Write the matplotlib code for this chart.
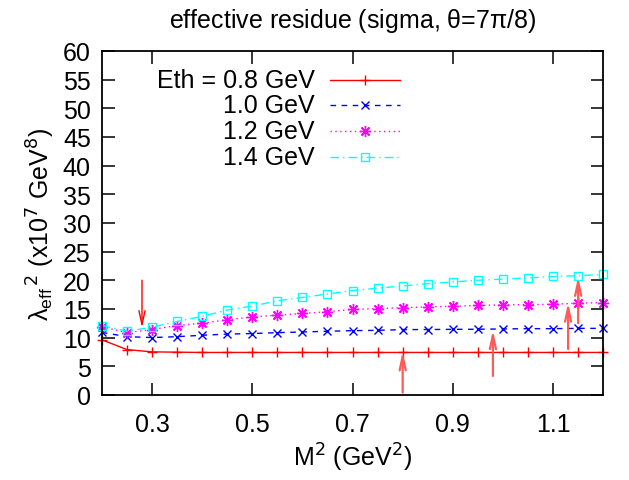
import numpy as np
import matplotlib.pyplot as plt

plt.rcParams['font.family'] = ['Liberation Sans', 'DejaVu Sans']

# M^2 grid (GeV^2)
m2 = [0.20, 0.25, 0.30, 0.35, 0.40, 0.45, 0.50, 0.55, 0.60, 0.65, 0.70,
      0.75, 0.80, 0.85, 0.90, 0.95, 1.00, 1.05, 1.10, 1.15, 1.20]

# effective residue for each threshold
eth_08 = [9.6, 7.9, 7.5, 7.45, 7.4, 7.4, 7.4, 7.4, 7.4, 7.4, 7.4,
          7.4, 7.4, 7.4, 7.4, 7.4, 7.4, 7.4, 7.4, 7.4, 7.4]
eth_10 = [10.9, 10.15, 10.0, 10.15, 10.4, 10.6, 10.7, 10.85, 10.97, 11.1, 11.2,
          11.26, 11.38, 11.4, 11.43, 11.45, 11.5, 11.55, 11.55, 11.6, 11.6]
eth_12 = [11.9, 10.85, 11.4, 12.1, 12.5, 13.1, 13.6, 13.9, 14.2, 14.5, 14.9,
          15.05, 15.2, 15.35, 15.45, 15.6, 15.7, 15.75, 15.8, 16.0, 16.1]
eth_14 = [12.1, 11.1, 11.8, 12.8, 13.7, 14.8, 15.5, 16.4, 17.0, 17.6, 18.2,
          18.6, 19.0, 19.4, 19.7, 20.0, 20.2, 20.4, 20.65, 20.8, 21.0]

labels = ['Eth = 0.8 GeV', '1.0 GeV', '1.2 GeV', '1.4 GeV']

# arrows marking window limits
arrow_x = [0.28, 0.80, 0.98, 1.13, 1.15]
arrow_from = [20.0, 0.4, 3.3, 8.0, 12.5]
arrow_to = [11.7, 7.6, 11.3, 16.1, 20.6]

styles = [
    dict(color='#ff0000', ls='-', marker='+', ms=7, mew=1.0),
    dict(color='#0000ff', ls=(0, (4, 4)), marker='x', ms=6, mew=1.0),
    dict(color='#ff00ff', ls=(0, (1, 2.5)), marker=(8, 2, 0), ms=8, mew=1.0),
    dict(color='#00ffff', ls=(0, (6, 3, 1, 3)), marker='s', ms=6, mew=1.0, mfc='none'),
]

FS = 18

fig = plt.figure(figsize=(6.29, 4.81), dpi=100)
ax = fig.add_axes([0.162, 0.177, 0.797, 0.715])

for ys, st in zip([eth_08, eth_10, eth_12, eth_14], styles):
    ax.plot(m2, ys, lw=1.0, clip_on=False, **st)

for i in range(len(arrow_x)):
    col = '#ff0000' if i == 0 else '#ff5a5a'
    lw = 1.0 if i == 0 else 1.6
    ax.annotate('', xy=(arrow_x[i], arrow_to[i]), xytext=(arrow_x[i], arrow_from[i]),
                arrowprops=dict(arrowstyle='->,head_length=1.0,head_width=0.22',
                                color=col, lw=lw, shrinkA=0, shrinkB=0))

# legend drawn by hand: text right-aligned, sample on the right
leg_y = [0.916, 0.842, 0.767, 0.693]
for lab, st, yy in zip(labels, styles, leg_y):
    ax.text(0.425, yy, lab, transform=ax.transAxes, ha='right', va='center', fontsize=FS)
    ax.plot([0.455, 0.525, 0.595], [yy, yy, yy], transform=ax.transAxes,
            lw=1.0, markevery=[1], **st)

ax.set_xlim(0.2, 1.2)
ax.set_ylim(0, 60)
ax.set_xticks([0.3, 0.5, 0.7, 0.9, 1.1])
ax.set_yticks(np.arange(0, 61, 5))
ax.tick_params(direction='in', length=9, width=1.1, labelsize=FS, pad=12,
               top=True, right=True)
ax.tick_params(axis='y', pad=8)
for sp in ax.spines.values():
    sp.set_linewidth(1.3)

ax.set_title(r'effective residue (sigma, $\mathregular{\theta}$=7$\mathregular{\pi}$/8)',
             fontsize=FS, pad=17)
ax.set_xlabel(r'M$^2$ (GeV$^2$)', fontsize=FS, labelpad=4)
ax.set_ylabel(r'$\mathregular{\lambda_{eff}}^{\,2}$ (x10$^7$ GeV$^8$)', fontsize=FS, labelpad=4)

plt.savefig('out.png', dpi=100)
